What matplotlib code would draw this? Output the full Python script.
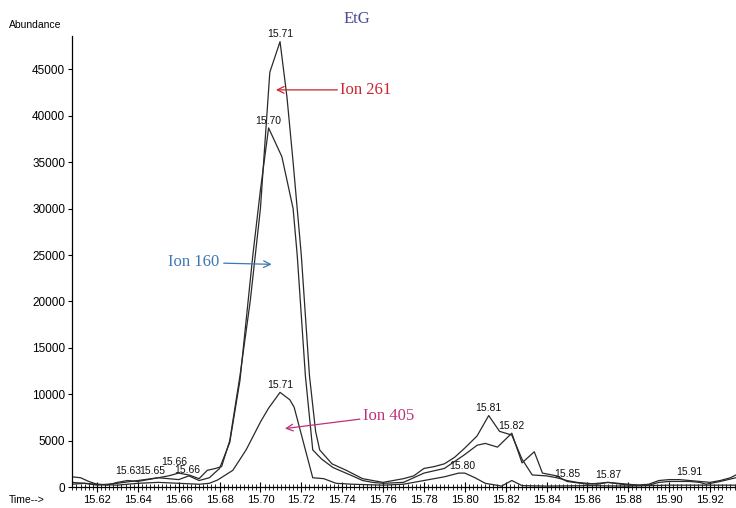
import matplotlib.pyplot as plt
from matplotlib.ticker import MultipleLocator

# Ion 261 trace
t_261 = [15.6078, 15.612, 15.616, 15.620, 15.625, 15.630, 15.635, 15.640, 15.645, 15.650,
         15.655, 15.660, 15.665, 15.670, 15.674, 15.678, 15.681, 15.685, 15.690, 15.695,
         15.700, 15.7046, 15.7096, 15.7130, 15.716, 15.720, 15.724, 15.727, 15.729, 15.735,
         15.742, 15.750, 15.755, 15.760, 15.765, 15.770, 15.775, 15.780, 15.785, 15.790,
         15.795, 15.800, 15.806, 15.8117, 15.817, 15.823, 15.828, 15.833, 15.840, 15.845,
         15.850, 15.855, 15.860, 15.865, 15.870, 15.875, 15.880, 15.885, 15.890, 15.895,
         15.900, 15.905, 15.910, 15.915, 15.920, 15.925, 15.930, 15.9327]
a_261 = [1100, 1000, 600, 300, 200, 500, 700, 600, 800, 1000,
         1200, 1500, 1300, 900, 1800, 2000, 2200, 5000, 12000, 20000,
         30000, 44700, 48000, 42000, 35000, 25000, 12000, 6000, 4000, 2500,
         1800, 900, 700, 500, 700, 900, 1200, 2000, 2200, 2500,
         3200, 4200, 5500, 7700, 6000, 5600, 3000, 1300, 1200, 1000,
         700, 500, 400, 300, 500, 400, 300, 200, 300, 700,
         800, 800, 700, 600, 500, 700, 1000, 1300]

# Ion 160 trace
t_160 = [15.6078, 15.614, 15.620, 15.630, 15.640, 15.650, 15.655, 15.660, 15.665, 15.670,
         15.675, 15.680, 15.685, 15.690, 15.6963, 15.700, 15.704, 15.7105, 15.716, 15.718,
         15.722, 15.7256, 15.730, 15.7355, 15.745, 15.750, 15.755, 15.760, 15.770, 15.780,
         15.790, 15.800, 15.806, 15.810, 15.816, 15.823, 15.828, 15.834, 15.838, 15.845,
         15.850, 15.860, 15.870, 15.880, 15.890, 15.895, 15.900, 15.910, 15.915, 15.918,
         15.925, 15.9327]
a_160 = [300, 400, 200, 400, 700, 1000, 900, 800, 1200, 700,
         1000, 2000, 4800, 11500, 25000, 32000, 38700, 35600, 30000, 25000,
         12000, 4000, 3000, 2100, 1200, 700, 500, 400, 500, 1500,
         2000, 3500, 4500, 4700, 4300, 5800, 2600, 3800, 1500, 1200,
         600, 300, 500, 200, 200, 500, 600, 600, 500, 300,
         600, 1000]

# Ion 405 trace
t_405 = [15.6078, 15.620, 15.630, 15.640, 15.650, 15.660, 15.670, 15.675, 15.679, 15.6865,
         15.693, 15.700, 15.704, 15.7096, 15.7144, 15.7165, 15.7256, 15.731, 15.737, 15.745,
         15.760, 15.770, 15.780, 15.790, 15.797, 15.800, 15.805, 15.810, 15.818, 15.823,
         15.828, 15.840, 15.860, 15.880, 15.900, 15.9327]
a_405 = [500, 300, 200, 400, 500, 400, 300, 400, 750, 1800,
         4000, 7000, 8500, 10200, 9400, 8600, 1000, 900, 400, 300,
         200, 300, 700, 1100, 1500, 1500, 1000, 400, 100, 700,
         150, 100, 150, 100, 200, 200]

# peak labels: retention time, abundance at label bottom, text
peak_t = [15.7096, 15.7040, 15.7096, 15.6352, 15.6469, 15.6580, 15.6640,
          15.8117, 15.8230, 15.7990, 15.8500, 15.8700, 15.9100]
peak_a = [48000, 38700, 10200, 900, 900, 1900, 1000,
          7700, 5800, 1500, 600, 500, 800]
peak_txt = ['15.71', '15.70', '15.71', '15.63', '15.65', '15.66', '15.66',
            '15.81', '15.82', '15.80', '15.85', '15.87', '15.91']

plt.rcParams['font.family'] = ['Liberation Sans', 'DejaVu Sans']

fig = plt.figure(figsize=(7.36, 5.08), dpi=100)
ax = fig.add_axes([0.0978, 0.0413, 0.9022, 0.8877])

for t, a in [(t_261, a_261), (t_160, a_160), (t_405, a_405)]:
    ax.plot(t, a, color='#2a2a2a', lw=0.9)

for t, a, s in zip(peak_t, peak_a, peak_txt):
    ax.text(t, a + 250, s, fontsize=7.5, ha='center', va='bottom', color='#111111')

ax.set_xlim(15.6078, 15.9327)
ax.set_ylim(0, 48600)
ax.xaxis.set_major_locator(MultipleLocator(0.02))
ax.xaxis.set_minor_locator(MultipleLocator(0.002))
ax.yaxis.set_major_locator(MultipleLocator(5000))
ax.xaxis.set_major_formatter(plt.FuncFormatter(lambda v, p: f'{v:.2f}'))
ax.yaxis.set_major_formatter(plt.FuncFormatter(lambda v, p: f'{v:.0f}'))
ax.tick_params(axis='x', which='major', direction='inout', length=7, labelsize=8, pad=2)
ax.tick_params(axis='x', which='minor', direction='inout', length=4)
ax.tick_params(axis='y', which='major', direction='out', length=3, labelsize=8.5, pad=2)
for side in ['top', 'right']:
    ax.spines[side].set_visible(False)
ax.spines['left'].set_linewidth(0.9)
ax.spines['bottom'].set_linewidth(0.9)

fig.text(0.012, 0.940, 'Abundance', fontsize=7.5, va='bottom')
fig.text(0.012, 0.015, 'Time-->', fontsize=7.5, va='center')

serif = ['Liberation Serif', 'DejaVu Serif']
fig.text(0.485, 0.962, 'EtG', fontsize=12, color='#4b4b9a', family=serif, ha='center', va='center')

ax.annotate('Ion 261', xy=(15.7076, 42800), xytext=(15.739, 42800), fontsize=12,
            color='#c8252c', family=serif, va='center',
            arrowprops=dict(arrowstyle='->', color='#c8252c', lw=0.9, shrinkA=0, shrinkB=0))
ax.annotate('Ion 160', xy=(15.7055, 24000), xytext=(15.680, 24200), fontsize=12,
            color='#3d78b3', family=serif, va='center', ha='right',
            arrowprops=dict(arrowstyle='->', color='#3d78b3', lw=0.9, shrinkA=1, shrinkB=0))
ax.annotate('Ion 405', xy=(15.7120, 6300), xytext=(15.750, 7700), fontsize=12,
            color='#c0307a', family=serif, va='center',
            arrowprops=dict(arrowstyle='->', color='#c0307a', lw=0.9, shrinkA=0, shrinkB=0))

fig.savefig('out.png', dpi=100)
